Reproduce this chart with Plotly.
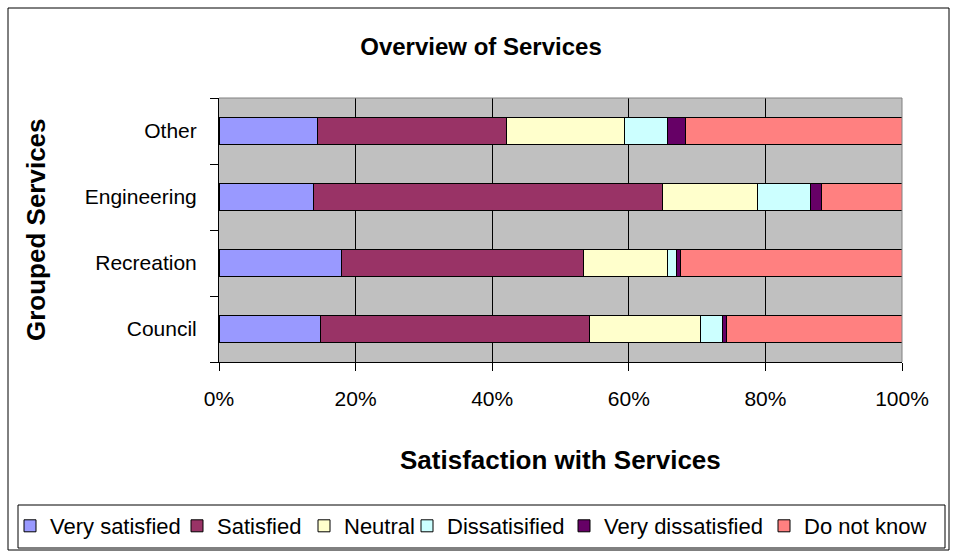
import plotly.graph_objects as go

categories = ["Council", "Recreation", "Engineering", "Other"]
series_names = ["Very satisfied", "Satisfied", "Neutral", "Dissatisified", "Very dissatisfied", "Do not know"]
very_satisfied = [14.9, 17.9, 13.8, 14.4]
satisfied = [39.3, 35.4, 51.2, 27.7]
neutral = [16.3, 12.3, 13.8, 17.3]
dissatisfied = [3.2, 1.4, 7.8, 6.2]
very_dissatisfied = [0.6, 0.6, 1.6, 2.7]
do_not_know = [25.7, 32.4, 11.8, 31.7]
colors = ["#9999FF", "#993366", "#FFFFCC", "#CCFFFF", "#660066", "#FF8080"]
x_ticks = [0, 20, 40, 60, 80, 100]
x_tick_labels = ["0%", "20%", "40%", "60%", "80%", "100%"]

W, H = 957, 554
L, R, T, B = 219, 902, 98, 362  # plot area pixels
# left edge (px) of each legend entry along the bottom legend strip
legend_left_px = [10, 177, 304, 407, 564, 764]


def px(x):
    return (x - L) / (R - L)


def py(y):
    return (B - y) / (B - T)


FONT = "Liberation Sans, Arial, sans-serif"

fig = go.Figure()
all_values = [very_satisfied, satisfied, neutral, dissatisfied, very_dissatisfied, do_not_know]
for i, (name, vals, col) in enumerate(zip(series_names, all_values, colors)):
    fig.add_trace(go.Bar(
        y=categories, x=vals, name=name, orientation="h",
        marker=dict(color=col, line=dict(color="black", width=1)),
        legend="legend" if i == 0 else f"legend{i + 1}",
        showlegend=True,
        hoverinfo="x+y+name",
    ))

shapes = [
    dict(type="rect", xref="paper", yref="paper", x0=px(8), x1=px(949), y0=py(550), y1=py(8),
         line=dict(color="black", width=1), fillcolor="rgba(0,0,0,0)", layer="below"),
    dict(type="rect", xref="paper", yref="paper", x0=px(18), x1=px(945), y0=py(548), y1=py(505),
         line=dict(color="black", width=1), fillcolor="white", layer="below"),
    dict(type="line", xref="paper", yref="paper", x0=0, x1=1, y0=1, y1=1,
         line=dict(color="#808080", width=1)),
    dict(type="line", xref="paper", yref="paper", x0=1, x1=1, y0=0, y1=1,
         line=dict(color="#808080", width=1)),
]

annotations = [
    dict(text="<b>Satisfaction with Services</b>", xref="paper", yref="paper",
         x=0.5, y=py(460), xanchor="center", yanchor="middle", showarrow=False,
         font=dict(family=FONT, size=26, color="black")),
    dict(text="<b>Grouped Services</b>", xref="paper", yref="paper",
         x=px(36), y=0.5, xanchor="center", yanchor="middle", showarrow=False, textangle=-90,
         font=dict(family=FONT, size=26, color="black")),
]

legends = {}
for i, lx in enumerate(legend_left_px):
    key = "legend" if i == 0 else f"legend{i + 1}"
    legends[key] = dict(orientation="h", xref="container", yref="container",
                        x=lx / W, y=1 - 526 / H, xanchor="left", yanchor="middle",
                        bgcolor="rgba(0,0,0,0)", borderwidth=0,
                        font=dict(family=FONT, size=22, color="black"))

fig.update_layout(
    width=W, height=H,
    margin=dict(l=L, r=W - R, t=T, b=H - B, pad=0, autoexpand=False),
    barmode="stack",
    bargap=0.6,
    showlegend=True,
    paper_bgcolor="white",
    plot_bgcolor="#C0C0C0",
    font=dict(family=FONT, size=21, color="black"),
    title=dict(text="<b>Overview of Services</b>", xref="container", yref="container",
               x=481 / W, y=1 - 47 / H, xanchor="center", yanchor="middle",
               font=dict(family=FONT, size=24, color="black")),
    xaxis=dict(range=[0, 100], tickvals=x_ticks, ticktext=x_tick_labels, showgrid=True,
               gridcolor="black", gridwidth=1, showline=True, linecolor="black", linewidth=1,
               ticks="outside", ticklen=8, tickcolor="black", zeroline=False,
               ticklabelstandoff=10,
               tickfont=dict(family=FONT, size=21, color="black")),
    yaxis=dict(categoryorder="array", categoryarray=categories, showgrid=False,
               showline=True, linecolor="black", linewidth=1, ticks="outside", ticklen=8,
               tickcolor="black", tickson="boundaries", ticklabelstandoff=17,
               tickfont=dict(family=FONT, size=21, color="black")),
    shapes=shapes,
    annotations=annotations,
    **legends,
)

fig.write_html("out.html")
